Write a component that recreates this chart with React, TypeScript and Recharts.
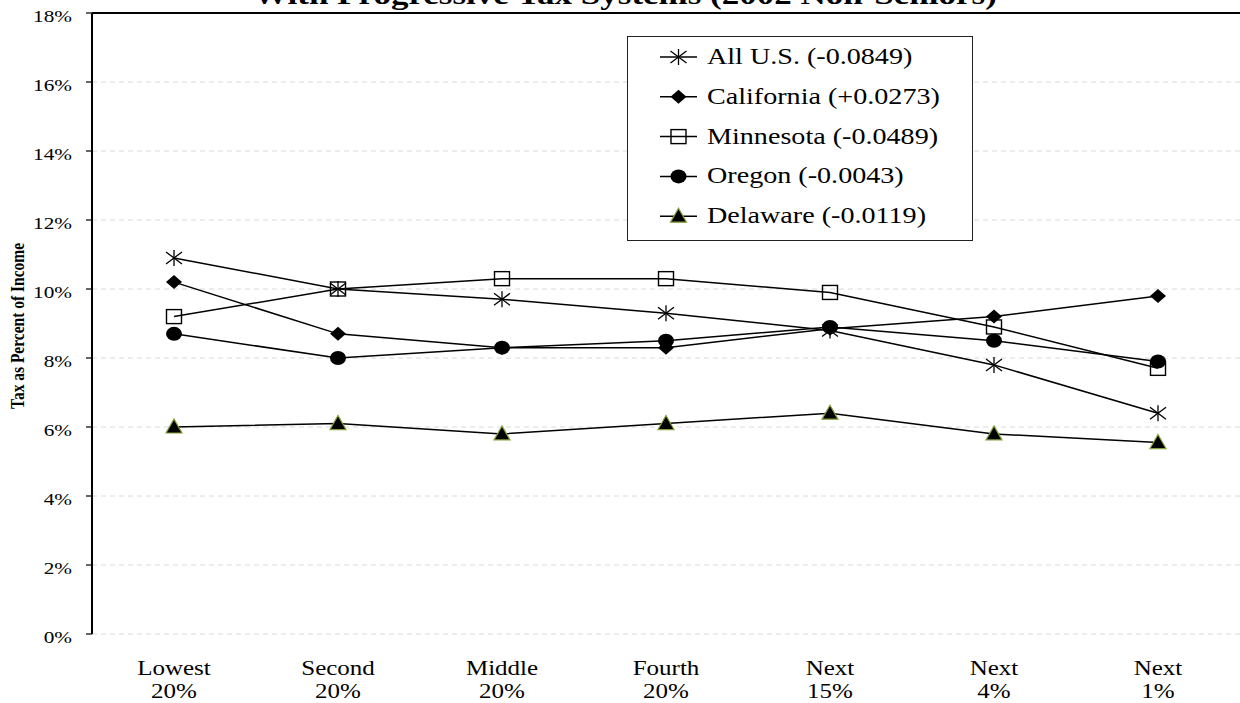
import { LineChart, Line, XAxis, YAxis, CartesianGrid, ReferenceLine, Legend } from 'recharts';

// text in the source is stretched sideways
const SX = 1.25;
const FONT = '"Liberation Serif", "Times New Roman", serif';

const categories = [
  ['Lowest', '20%'],
  ['Second', '20%'],
  ['Middle', '20%'],
  ['Fourth', '20%'],
  ['Next', '15%'],
  ['Next', '4%'],
  ['Next', '1%'],
];
const allUS = [10.9, 10.0, 9.7, 9.3, 8.8, 7.8, 6.4];
const california = [10.2, 8.7, 8.3, 8.3, 8.85, 9.2, 9.8];
const minnesota = [9.2, 10.0, 10.3, 10.3, 9.9, 8.9, 7.7];
const oregon = [8.7, 8.0, 8.3, 8.5, 8.9, 8.5, 7.9];
const delaware = [6.0, 6.1, 5.8, 6.1, 6.4, 5.8, 5.55];
const yTicks = [0, 2, 4, 6, 8, 10, 12, 14, 16, 18];
const boundaryTicks = [0, 1, 2, 3, 4, 5, 6, 7];
const centerTicks = [0.5, 1.5, 2.5, 3.5, 4.5, 5.5, 6.5];

const data = categories.map((c, i) => ({
  x: i + 0.5,
  allUS: allUS[i],
  california: california[i],
  minnesota: minnesota[i],
  oregon: oregon[i],
  delaware: delaware[i],
}));

type MarkerKind = 'star' | 'diamond' | 'square' | 'circle' | 'triangle';

function Marker({ kind, cx, cy }: { kind: MarkerKind; cx: number; cy: number }) {
  switch (kind) {
    case 'star':
      return (
        <g stroke="#000" strokeWidth={1.3}>
          <line x1={cx} y1={cy - 8} x2={cx} y2={cy + 8} />
          <line x1={cx - 8} y1={cy - 6} x2={cx + 8} y2={cy + 6} />
          <line x1={cx - 8} y1={cy + 6} x2={cx + 8} y2={cy - 6} />
        </g>
      );
    case 'diamond':
      return <polygon points={`${cx},${cy - 7} ${cx + 8},${cy} ${cx},${cy + 7} ${cx - 8},${cy}`} fill="#000" />;
    case 'square':
      return <rect x={cx - 7.5} y={cy - 7} width={15} height={14} fill="none" stroke="#000" strokeWidth={1.4} />;
    case 'circle':
      return <ellipse cx={cx} cy={cy} rx={8} ry={7} fill="#000" />;
    case 'triangle':
      return (
        <polygon
          points={`${cx},${cy - 8} ${cx + 8},${cy + 6} ${cx - 8},${cy + 6}`}
          fill="#000"
          stroke="#84a03c"
          strokeWidth={1.2}
        />
      );
  }
  return null;
}

const series: { key: string; label: string; marker: MarkerKind }[] = [
  { key: 'allUS', label: 'All U.S. (-0.0849)', marker: 'star' },
  { key: 'california', label: 'California (+0.0273)', marker: 'diamond' },
  { key: 'minnesota', label: 'Minnesota (-0.0489)', marker: 'square' },
  { key: 'oregon', label: 'Oregon (-0.0043)', marker: 'circle' },
  { key: 'delaware', label: 'Delaware (-0.0119)', marker: 'triangle' },
];

function LegendBox() {
  return (
    <svg width={346} height={205} style={{ display: 'block' }}>
      <rect x={0.5} y={0.5} width={345} height={204} fill="#fff" stroke="#222" strokeWidth={1} />
      {series.map((s, i) => {
        const cy = 21 + i * 39.8;
        return (
          <g key={s.key}>
            <line x1={33} y1={cy} x2={70} y2={cy} stroke="#000" strokeWidth={1.5} />
            <Marker kind={s.marker} cx={51.5} cy={cy} />
            <g transform={`translate(80,${cy + 7}) scale(${SX},1)`}>
              <text x={0} y={0} fontFamily={FONT} fontSize={22.5} fill="#000">
                {s.label}
              </text>
            </g>
          </g>
        );
      })}
    </svg>
  );
}

function YTick({ x, y, payload }: any) {
  return (
    <g transform={`translate(${x},${y + 8.5}) scale(${SX},1)`}>
      <text x={0} y={0} textAnchor="end" fontFamily={FONT} fontSize={17} fill="#000">
        {`${payload.value}%`}
      </text>
    </g>
  );
}

function XTick({ x, y, payload }: any) {
  const idx = Math.round(payload.value - 0.5);
  const [a, b] = categories[idx] || ['', ''];
  return (
    <g>
      <g transform={`translate(${x},${y + 41}) scale(${SX},1)`}>
        <text x={0} y={0} textAnchor="middle" fontFamily={FONT} fontSize={20} fill="#000">
          {a}
        </text>
      </g>
      <g transform={`translate(${x},${y + 64}) scale(${SX},1)`}>
        <text x={0} y={0} textAnchor="middle" fontFamily={FONT} fontSize={20} fill="#000">
          {b}
        </text>
      </g>
    </g>
  );
}

export default function App() {
  return (
    <div style={{ position: 'absolute', left: 0, top: 0, width: 1240, height: 703, background: '#fff', overflow: 'hidden' }}>
      <LineChart width={1240} height={703} data={data} margin={{ top: 13, right: 0, left: 0, bottom: 0 }}>
        <CartesianGrid xAxisId="c" vertical={false} stroke="#dadada" strokeDasharray="5 4" />
        <XAxis
          xAxisId="b"
          type="number"
          dataKey="x"
          domain={[0, 7]}
          ticks={boundaryTicks}
          tick={false}
          tickSize={6}
          height={0}
          axisLine={{ stroke: '#000', strokeWidth: 2 }}
          tickLine={{ stroke: '#000', strokeWidth: 1.2 }}
        />
        <XAxis
          xAxisId="c"
          type="number"
          dataKey="x"
          domain={[0, 7]}
          ticks={centerTicks}
          interval={0}
          tick={<XTick />}
          tickSize={0}
          tickMargin={0}
          height={69}
          axisLine={false}
          tickLine={false}
        />
        <YAxis
          type="number"
          domain={[0, 18]}
          ticks={yTicks}
          interval={0}
          width={92}
          tickSize={6}
          tickMargin={14}
          tick={<YTick />}
          axisLine={{ stroke: '#000', strokeWidth: 2 }}
          tickLine={{ stroke: '#000', strokeWidth: 1.2 }}
          label={{
            content: () => (
              <g transform={`translate(17,326) scale(${SX},1) rotate(-90)`}>
                <text x={0} y={0} textAnchor="middle" dominantBaseline="central" fontFamily={FONT} fontWeight="bold" fontSize={15.5} fill="#000">
                  Tax as Percent of Income
                </text>
              </g>
            ),
          }}
        />
        <ReferenceLine xAxisId="c" y={18} stroke="#000" strokeWidth={2} />
        {series.map((s) => (
          <Line
            key={s.key}
            xAxisId="c"
            dataKey={s.key}
            name={s.label}
            type="linear"
            stroke="#000"
            strokeWidth={1.5}
            isAnimationActive={false}
            dot={(p: any) => <Marker key={`${s.key}-${p.index}`} kind={s.marker} cx={p.cx} cy={p.cy} />}
            activeDot={false}
          />
        ))}
        <Legend
          layout="vertical"
          align="center"
          verticalAlign="middle"
          content={() => <LegendBox />}
          wrapperStyle={{ left: 627, top: 36, width: 346, height: 205 }}
        />
      </LineChart>
      <svg width={1240} height={30} style={{ position: 'absolute', left: 0, top: 0, pointerEvents: 'none' }}>
        <g transform={`translate(625,4) scale(${SX},1)`}>
          <text x={0} y={0} textAnchor="middle" fontFamily={FONT} fontWeight="bold" fontSize={28} fill="#000">
            With Progressive Tax Systems (2002 Non-Seniors)
          </text>
        </g>
      </svg>
    </div>
  );
}
